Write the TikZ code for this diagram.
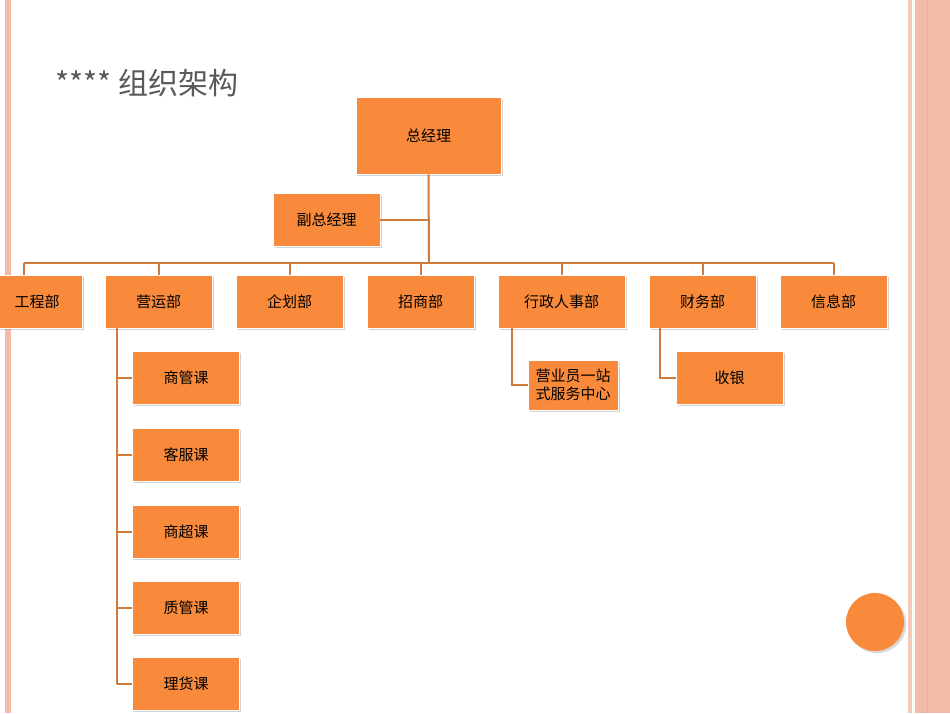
\documentclass[tikz,border=0pt]{standalone}
\usepackage{fontspec}
\newfontfamily\cjk{Noto Sans CJK SC}
\usetikzlibrary{shadows}
\definecolor{org}{HTML}{F98A3B}
\definecolor{lnc}{HTML}{CF7A38}
\definecolor{sal}{HTML}{F2BBA8}
\tikzset{box/.style={draw=white,line width=0.6pt,fill=org,minimum width=107pt,minimum height=53pt,font=\cjk\fontsize{15}{18}\selectfont,drop shadow={shadow xshift=1.5pt,shadow yshift=-1.5pt,opacity=0.35},inner sep=1pt,align=center},
conn/.style={draw=lnc,line width=2pt}}
\begin{document}
\begin{tikzpicture}[x=1pt,y=-1pt]
\useasboundingbox (0,0) rectangle (950,713);
\fill[white] (0,0) rectangle (950,713);
\fill[sal] (5,0) rectangle (11,713);
\fill[sal!80] (908,0) rectangle (912,713);
\fill[sal] (915,0) rectangle (950,713);
\draw[org!70,line width=0.8pt] (927,0) -- (927,713);
\node[anchor=west,text=black!65,font=\cjk\fontsize{30}{34}\selectfont] (title) at (52,83) {**** 组织架构};
\node[box,minimum width=145pt,minimum height=77pt] (gm) at (428.5,135.5) {总经理};
\node[box] (vgm) at (326.5,219.5) {副总经理};
\node[box,minimum width=90pt] (gc) at (37,301.5) {工程部};
\node[box] (yy) at (158.5,301.5) {营运部};
\node[box] (qh) at (289.5,301.5) {企划部};
\node[box] (zs) at (420.5,301.5) {招商部};
\node[box,minimum width=127pt] (xz) at (561.5,301.5) {行政人事部};
\node[box] (cw) at (702.5,301.5) {财务部};
\node[box] (xx) at (833.5,301.5) {信息部};
\node[box] (c1) at (186,378) {商管课};
\node[box] (c2) at (186,454.5) {客服课};
\node[box] (c3) at (186,531.5) {商超课};
\node[box] (c4) at (186,607.5) {质管课};
\node[box] (c5) at (186,684) {理货课};
\node[box,minimum width=90pt,minimum height=50pt] (yx) at (573,385) {营业员一站\\式服务中心};
\node[box] (sy) at (729.5,378) {收银};
\coordinate (bus) at (429,263);
\draw[conn] (gm.south) -- (bus);
\draw[conn] (vgm.east) -- (429,219.5);
\draw[conn] (24,263) -- (834,263);
\foreach \n/\xx in {gc/24,yy/158.5,qh/289.5,zs/420.5,xz/561.5,cw/702.5,xx/833.5}{
  \draw[conn] (\xx,263) -- (\xx,275);}
\draw[conn] (117,328) -- (117,684);
\foreach \n in {c1,c2,c3,c4,c5}{\draw[conn] (117,0 |- \n.west) -- (\n.west);}
\draw[conn] (512,328) |- (yx.west);
\draw[conn] (660,328) |- (sy.west);
\fill[org,drop shadow={opacity=0.3}] (875,622) circle (29);
\end{tikzpicture}
\end{document}
